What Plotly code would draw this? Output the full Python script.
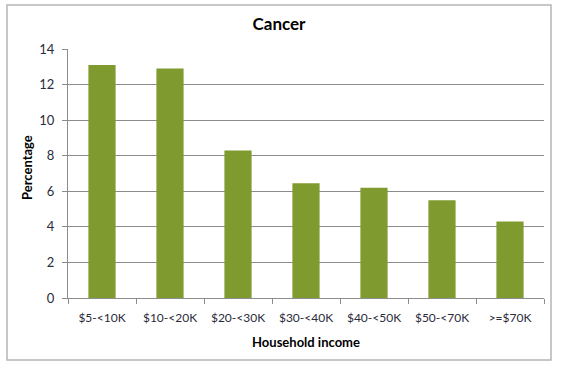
import plotly.graph_objects as go

categories = ["$5-<10K", "$10-<20K", "$20-<30K", "$30-<40K", "$40-<50K", "$50-<70K", ">=$70K"]
values = [13.1, 12.9, 8.3, 6.45, 6.2, 5.5, 4.3]
y_ticks = [0, 2, 4, 6, 8, 10, 12, 14]

W, H = 561, 366
L, R, T, B = 68, 17, 49, 68
pw, ph = W - L - R, H - T - B

fig = go.Figure(go.Bar(x=categories, y=values, marker=dict(color="#7f9a2e", line=dict(width=0)), width=0.4))

font = "Lato, 'Open Sans', sans-serif"
fig.update_layout(
    width=W, height=H,
    margin=dict(l=L, r=R, t=T, b=B),
    paper_bgcolor="white", plot_bgcolor="white",
    showlegend=False,
    font=dict(family=font, size=12, color="#2b2b3a"),
    title=dict(text="<b>Cancer</b>", x=279 / W, xanchor="center", xref="container",
               y=1 - 24 / H, yanchor="middle", yref="container",
               font=dict(family=font, size=17, color="black")),
    xaxis=dict(
        showgrid=False, showline=True, linecolor="#8c8c8c", linewidth=1,
        ticks="outside", ticklen=5, tickcolor="#8c8c8c", tickson="boundaries",
        ticklabelstandoff=9,
        tickfont=dict(size=12, color="#2b2b3a"),
        title=dict(text="<b>Household income</b>", font=dict(size=13, color="black"), standoff=13),
    ),
    yaxis=dict(
        range=[0, 14], tickvals=y_ticks, showgrid=True, gridcolor="#8c8c8c", gridwidth=1,
        showline=True, linecolor="#8c8c8c", linewidth=1, zeroline=False,
        ticks="outside", ticklen=5, tickcolor="#8c8c8c",
        ticklabelstandoff=5,
        tickfont=dict(size=13, color="#2b2b3a"),
    ),
)

fig.add_annotation(text="<b>Percentage</b>", xref="paper", yref="paper",
                   x=(27 - L) / pw, y=(H - B - 168) / ph, xanchor="center", yanchor="middle",
                   textangle=-90, showarrow=False, font=dict(family=font, size=13, color="black"))

fig.add_shape(type="rect", xref="paper", yref="paper",
              x0=(7 - L) / pw, x1=(551 - L) / pw,
              y0=(H - B - 360) / ph, y1=(H - B - 5) / ph,
              line=dict(color="#b5b5b5", width=1.5), fillcolor="rgba(0,0,0,0)", layer="below")

fig.write_html("out.html", config={"displayModeBar": False},
               post_script="document.body.style.margin='0';document.body.style.overflow='hidden';")
